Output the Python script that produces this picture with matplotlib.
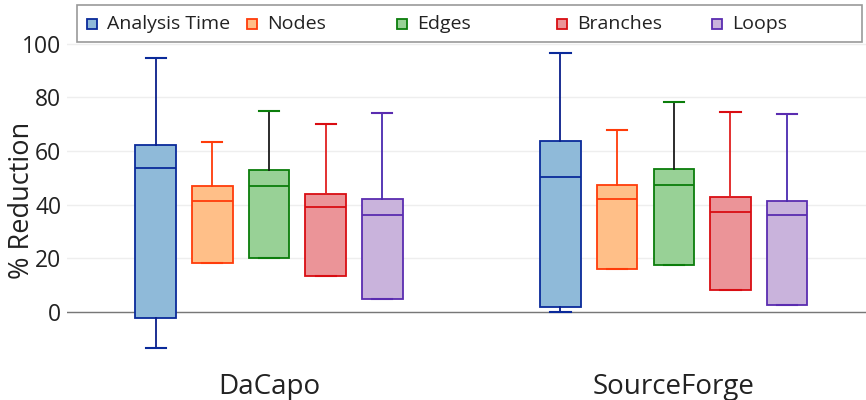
import matplotlib.pyplot as plt
from matplotlib.patches import Rectangle

plt.rcParams['font.family'] = ['Open Sans', 'DejaVu Sans']

# benchmark suites and reduction metrics
suites = ['DaCapo', 'SourceForge']
metrics = ['Analysis Time', 'Nodes', 'Edges', 'Branches', 'Loops']

# five-number summaries per metric: one value per suite
whislo = {'Analysis Time': [-13.7, -0.2], 'Nodes': [18.0, 16.0], 'Edges': [20.1, 17.3],
          'Branches': [13.3, 8.1], 'Loops': [4.7, 2.5]}
q1 = {'Analysis Time': [-2.5, 1.9], 'Nodes': [18.1, 16.0], 'Edges': [20.1, 17.3],
      'Branches': [13.3, 8.1], 'Loops': [4.7, 2.5]}
med = {'Analysis Time': [53.6, 50.1], 'Nodes': [41.4, 41.9], 'Edges': [47.0, 47.1],
       'Branches': [39.2, 37.3], 'Loops': [36.2, 36.0]}
q3 = {'Analysis Time': [62.3, 63.8], 'Nodes': [46.8, 47.3], 'Edges': [52.8, 53.2],
      'Branches': [44.0, 42.9], 'Loops': [42.0, 41.4]}
whishi = {'Analysis Time': [94.8, 96.4], 'Nodes': [63.4, 67.8], 'Edges': [74.9, 78.2],
          'Branches': [70.1, 74.5], 'Loops': [74.0, 73.9]}

fills = ['#8fbad9', '#ffbf88', '#98d196', '#eb9498', '#c9b3dc']
edges = ['#0a2a9a', '#ff3c0a', '#0b7d0b', '#d90d12', '#5a2cb0']
whisk = ['#0a1f8a', '#ff3c0a', '#1a1a1a', '#e02020', '#4a2ab0']

fig = plt.figure(figsize=(8.66, 4.0), dpi=100)
ax = fig.add_axes([0.077, 0.1, 0.923, 0.7975])

offsets = [-0.28, -0.14, 0.0, 0.14, 0.28]
for k, m in enumerate(metrics):
    stats = []
    for i in range(len(suites)):
        stats.append(dict(med=med[m][i], q1=q1[m][i], q3=q3[m][i],
                          whislo=whislo[m][i], whishi=whishi[m][i], fliers=[]))
    pos = [i + offsets[k] for i in range(len(suites))]
    ax.bxp(stats, positions=pos, widths=0.1, patch_artist=True, showfliers=False,
           boxprops=dict(facecolor=fills[k], edgecolor=edges[k], linewidth=1.3),
           medianprops=dict(color=edges[k], linewidth=1.3),
           whiskerprops=dict(color=whisk[k], linewidth=1.3),
           capprops=dict(color=edges[k], linewidth=1.5),
           manage_ticks=False)

ax.set_xlim(-0.5, 1.475)
ax.set_ylim(-18, 101)
ax.set_yticks([0, 20, 40, 60, 80, 100])
ax.set_xticks(range(len(suites)))
ax.set_xticklabels(suites, fontsize=20)
ax.tick_params(axis='y', labelsize=16.5, length=0, pad=4, colors='#222222')
ax.tick_params(axis='x', length=0, pad=9.5, colors='#222222')
for s in ax.spines.values():
    s.set_visible(False)
ax.grid(axis='y', color='#eeeeee', linewidth=1)
ax.set_axisbelow(True)
ax.axhline(0, color='#777777', linewidth=1, zorder=1)
fig.text(22 / 866, 1 - 200 / 400, '% Reduction', fontsize=19.5, color='#222222',
         rotation=90, ha='center', va='center')

# legend box along the top
fig.patches.append(Rectangle((77 / 866, 1 - 42 / 400), 785 / 866, 37 / 400,
                             transform=fig.transFigure, facecolor='white',
                             edgecolor='#999999', linewidth=1.2, zorder=5))
marker_x = [87, 247, 397, 557, 712]
for k, m in enumerate(metrics):
    fig.patches.append(Rectangle((marker_x[k] / 866, 1 - 29 / 400), 10 / 866, 10 / 400,
                                 transform=fig.transFigure, facecolor=fills[k],
                                 edgecolor=edges[k], linewidth=1.3, zorder=6))
    fig.text((marker_x[k] + 20) / 866, 1 - 24 / 400, m, fontsize=14,
             va='center', ha='left', color='#222222', zorder=7)

fig.savefig('out.png', dpi=100)
